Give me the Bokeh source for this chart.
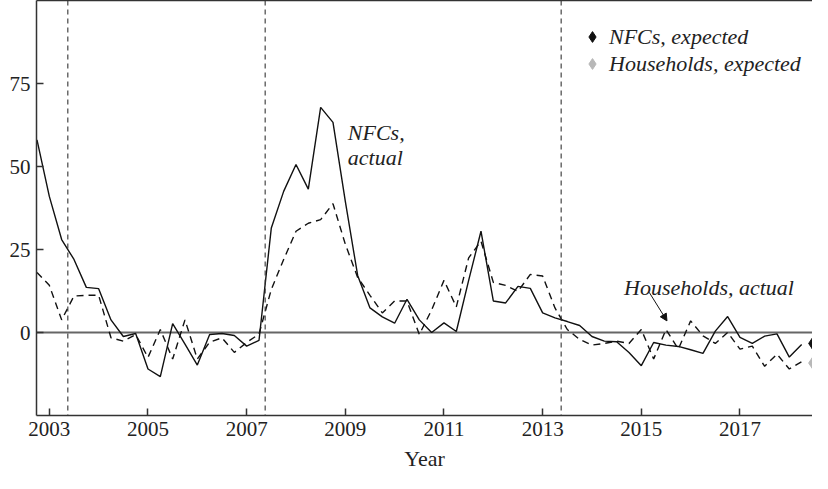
from bokeh.plotting import figure
from bokeh.models import (Range1d, FixedTicker, LinearAxis, Span, Label, Arrow,
                          NormalHead, Legend, LegendItem)
from bokeh.embed import file_html
from bokeh.resources import INLINE

# ---- data (quarterly, 2002Q4 .. 2018Q2) ----
nfc_actual = [58, 41, 28, 22, 13.6, 13.2, 3.8, -1.2, -0.3, -11, -13.3, 2.7, -3.5, -9.8,
              -0.6, -0.3, -0.9, -4.1, -2.4, 31.5, 42.5, 50.6, 43.2, 67.8, 63.3, 39.5,
              17.2, 7.4, 4.7, 2.8, 10.0, 3.8, 0.0, 2.9, 0.3, 15.7, 30.5, 9.5, 8.9, 13.9,
              13.3, 5.9, 4.4, 3.3, 2.1, -1.2, -2.6, -2.8, -6.0, -10.0, -3.0, -3.8, -4.2,
              -5.2, -6.3, 0.4, 4.8, -1.5, -3.3, -1.1, -0.4, -7.4, -3.6]
hh_actual = [18.1, 14.2, 3.8, 11.0, 11.2, 11.2, -1.6, -2.6, -0.6, -7.5, 0.9, -8.0, 3.8,
             -8.0, -2.9, -1.6, -6.0, -3.0, -0.5, 13.0, 22.0, 30.5, 32.9, 34.0, 38.8, 26.6,
             16.6, 11.2, 5.9, 9.5, 9.5, -0.6, 6.8, 15.7, 7.7, 22.5, 27.5, 15.1, 14.2, 12.4,
             17.5, 17.0, 7.4, 0.9, -2.1, -3.8, -3.3, -2.6, -3.3, 0.9, -8.0, 0.9, -5.0,
             3.5, -1.0, -3.3, 0.0, -5.0, -4.1, -10.2, -6.5, -11.0, -8.8]
quarters = [2002.75 + 0.25 * i for i in range(len(nfc_actual))]

expected_date = [2018.5]
nfc_expected = [-3.3]
hh_expected = [-9.2]

event_dates = [2003.375, 2007.375, 2013.375]
x_ticks = [2003, 2005, 2007, 2009, 2011, 2013, 2015, 2017]
y_ticks = [0, 25, 50, 75]

SERIF = "Liberation Serif"
INK = "#111111"
AXIS = "#333333"

p = figure(width=812, height=473, x_range=Range1d(2002.74, 2018.47),
           y_range=Range1d(-25, 100), output_backend="svg", toolbar_location=None,
           min_border_left=36, min_border_right=0, min_border_top=0, min_border_bottom=0)
p.xgrid.visible = False
p.ygrid.visible = False
p.outline_line_color = None
p.background_fill_color = "white"
p.border_fill_color = "white"

for ax in (p.xaxis[0], p.yaxis[0]):
    ax.axis_line_color = AXIS
    ax.axis_line_width = 1.5
    ax.major_tick_line_color = AXIS
    ax.major_tick_line_width = 1.5
    ax.major_tick_in = 7
    ax.major_tick_out = 0
    ax.minor_tick_line_color = None
    ax.major_label_text_font = SERIF
    ax.major_label_text_font_size = "21px"
    ax.major_label_text_color = "#222222"

p.xaxis.ticker = FixedTicker(ticks=x_ticks)
p.yaxis.ticker = FixedTicker(ticks=y_ticks)
p.yaxis.major_label_standoff = 6
p.xaxis.major_label_standoff = 6
p.xaxis.axis_label = "Year"
p.xaxis.axis_label_text_font = SERIF
p.xaxis.axis_label_text_font_style = "normal"
p.xaxis.axis_label_text_font_size = "22px"
p.xaxis.axis_label_text_color = "#222222"
p.xaxis.axis_label_standoff = 7

top_axis = LinearAxis(ticker=FixedTicker(ticks=[]), axis_line_color=AXIS, axis_line_width=1.5,
                      major_tick_line_color=None, minor_tick_line_color=None,
                      major_label_text_font_size="0px")
p.add_layout(top_axis, "above")

p.add_layout(Span(location=0, dimension="width", line_color="#666666", line_width=2,
                  level="underlay"))
for d in event_dates:
    p.add_layout(Span(location=d, dimension="height", line_color="#333333", line_width=1.1,
                      line_dash="5 4"))

p.line(quarters, nfc_actual, line_color=INK, line_width=1.4)
p.line(quarters, hh_actual, line_color=INK, line_width=1.4, line_dash="7 5")

r1 = p.scatter(expected_date, nfc_expected, marker="diamond", size=16,
               fill_color=INK, line_color=INK)
r2 = p.scatter(expected_date, hh_expected, marker="diamond", size=16,
               fill_color="#b8b8b8", line_color="#b8b8b8")

legend = Legend(items=[LegendItem(label="NFCs, expected", renderers=[r1]),
                       LegendItem(label="Households, expected", renderers=[r2])],
                location=(542, 338), border_line_color=None, background_fill_alpha=0,
                label_text_font=SERIF, label_text_font_style="italic",
                label_text_font_size="22px", label_text_color="#222222",
                glyph_width=28, glyph_height=27, spacing=0, label_standoff=3,
                padding=4, margin=0)
p.add_layout(legend)

p.add_layout(Label(x=2009.05, y=64.0, text="NFCs,\nactual", text_baseline="top",
                   text_font=SERIF, text_font_style="italic", text_font_size="22px",
                   text_color="#222222", text_line_height=1.0))
p.add_layout(Label(x=2014.65, y=13.6, text="Households, actual", text_baseline="alphabetic",
                   text_font=SERIF, text_font_style="italic", text_font_size="22px",
                   text_color="#222222"))
p.add_layout(Arrow(end=NormalHead(size=7, fill_color=INK, line_color=INK),
                   x_start=2015.16, y_start=12.1, x_end=2015.52, y_end=3.5,
                   line_color=INK, line_width=1))

open("out.html", "w").write(file_html(p, INLINE))
